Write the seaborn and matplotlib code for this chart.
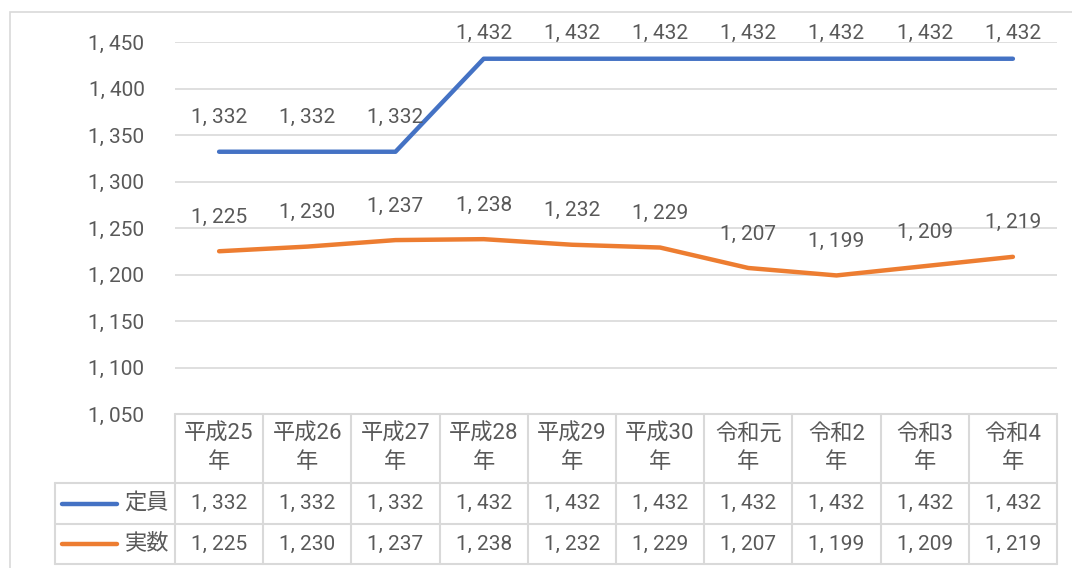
import matplotlib
matplotlib.use("Agg")
import matplotlib.pyplot as plt
import seaborn as sns
import pandas as pd
from matplotlib.patches import Rectangle

categories = ["平成25\n年", "平成26\n年", "平成27\n年", "平成28\n年", "平成29\n年",
              "平成30\n年", "令和元\n年", "令和2\n年", "令和3\n年", "令和4\n年"]
teiin = [1332, 1332, 1332, 1432, 1432, 1432, 1432, 1432, 1432, 1432]
jissu = [1225, 1230, 1237, 1238, 1232, 1229, 1207, 1199, 1209, 1219]
series_names = ["定員", "実数"]
colors = ["#4472C4", "#ED7D31"]
yticks = [1050, 1100, 1150, 1200, 1250, 1300, 1350, 1400, 1450]

sns.set_theme(style="white")
plt.rcParams['font.family'] = ['Roboto', 'Noto Sans CJK JP', 'DejaVu Sans']
plt.rcParams['font.weight'] = 'normal'
TXT = "#595959"
GRID = "#D9D9D9"
FS = 15
FS_CJK = 16

def fmt(v):
    return f"{v:,}".replace(",", ", ")

W, H = 1072, 568
fig = plt.figure(figsize=(W / 100, H / 100), dpi=100)
fig.add_artist(Rectangle((10 / W, -0.1), 1.2, 1 - 12 / H + 0.1, transform=fig.transFigure,
                         fill=False, edgecolor=GRID, linewidth=1.2))

x0, x1, ytop, ybot = 175, 1057, 42, 414
ax = fig.add_axes([x0 / W, 1 - ybot / H, (x1 - x0) / W, (ybot - ytop) / H])

n = len(categories)
df = pd.DataFrame({
    "idx": list(range(n)) * 2,
    "value": teiin + jissu,
    "series": [series_names[0]] * n + [series_names[1]] * n,
})
sns.lineplot(data=df, x="idx", y="value", hue="series", palette=colors, linewidth=3.2,
             ax=ax, legend=False, solid_capstyle="round")

ax.set_xlim(-0.5, n - 0.5)
ax.set_ylim(1050, 1450)
ax.set_yticks(yticks)
ax.set_yticklabels([fmt(v) for v in yticks], color=TXT, fontsize=FS)
ax.tick_params(axis="y", length=0, pad=22)
ax.set_xticks([])
ax.set_xlabel("")
ax.set_ylabel("")
for s in ax.spines.values():
    s.set_visible(False)
ax.grid(axis="y", color=GRID, linewidth=1.2)
ax.set_axisbelow(True)

# data labels
px_per_unit = (ybot - ytop) / 400
for vals in (teiin, jissu):
    for i, v in enumerate(vals):
        yy = min(v + 34 / px_per_unit, 1450 + 9 / px_per_unit)
        ax.text(i, yy, fmt(v), ha="center", va="center", fontsize=FS, color=TXT, clip_on=False)

# data table
tr = ax.get_xaxis_transform()
def fy(ypx):
    return (ybot - ypx) / (ybot - ytop)
row_y = [414, 483, 524, 564]
colw = (x1 - x0) / n
left_x = -0.5 - (x0 - 55) / colw
lk = dict(color=GRID, linewidth=1.5, transform=tr, clip_on=False)
ax.plot([-0.5, n - 0.5], [fy(414)] * 2, **lk)
for yp in row_y[1:]:
    ax.plot([left_x, n - 0.5], [fy(yp)] * 2, **lk)
for i in range(n + 1):
    ax.plot([i - 0.5, i - 0.5], [fy(414), fy(564)], **lk)
ax.plot([left_x, left_x], [fy(483), fy(564)], **lk)

for i, c in enumerate(categories):
    ax.text(i, fy((414 + 483) / 2), c, ha="center", va="center", fontsize=FS_CJK, color=TXT,
            transform=tr, linespacing=1.45)
for r, vals in enumerate((teiin, jissu)):
    yc = fy((row_y[r + 1] + row_y[r + 2]) / 2)
    for i, v in enumerate(vals):
        ax.text(i, yc, fmt(v), ha="center", va="center", fontsize=FS, color=TXT, transform=tr)
    lx0 = left_x + 7 / colw
    lx1 = left_x + 62 / colw
    ax.plot([lx0, lx1], [yc, yc], color=colors[r], linewidth=3.2, transform=tr,
            clip_on=False, solid_capstyle="round")
    ax.text(-0.5 - 6 / colw, yc, series_names[r], ha="right", va="center", fontsize=FS_CJK,
            color=TXT, transform=tr)

fig.savefig("out.png", dpi=100)
